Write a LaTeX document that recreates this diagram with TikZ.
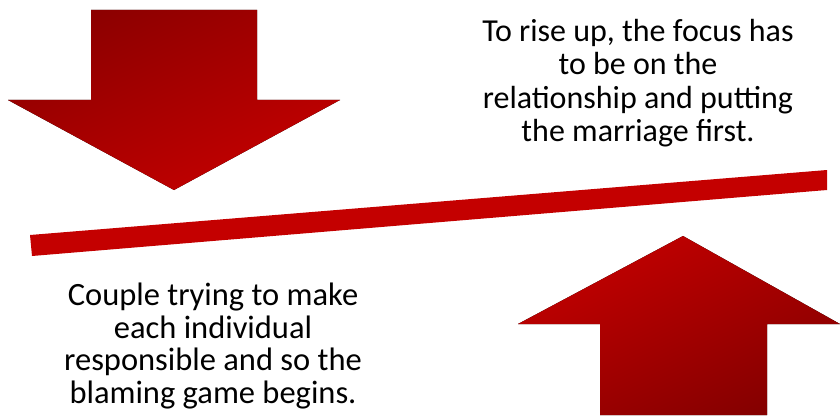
\documentclass[tikz,border=0pt]{standalone}
\usepackage{fontspec}
\setmainfont{Carlito}
\definecolor{darkred}{HTML}{8C0000}
\definecolor{brightred}{HTML}{C40000}
\tikzset{
  caption/.style={inner sep=0pt, align=center, text=black},
}
\begin{document}
\begin{tikzpicture}[x=1pt,y=-1pt]
\useasboundingbox (0,0) rectangle (840,417);
% down arrow
\fill[top color=darkred, bottom color=brightred, shading angle=25]
  (91,10) -- (257,10) -- (257,100) -- (340,100) -- (174,190) -- (8,100) -- (91,100) -- cycle;
% up arrow
\fill[top color=brightred, bottom color=darkred!95!black, shading angle=25]
  (683,236) -- (840,324) -- (767,324) -- (767,415) -- (600,415) -- (600,324) -- (518,324) -- cycle;
% bar
\fill[brightred] (30,235) -- (827,170) -- (827,190) -- (32,256) -- cycle;
% texts
\node[caption, font=\fontsize{32}{33.5}\selectfont] (top) at (638,83)
  {To rise up, the focus has\\to be on the\\relationship and putting\\the marriage first.};
\node[caption, font=\fontsize{32.5}{32.5}\selectfont] (bottom) at (213,346)
  {Couple trying to make\\each individual\\responsible and so the\\blaming game begins.};
\end{tikzpicture}
\end{document}
